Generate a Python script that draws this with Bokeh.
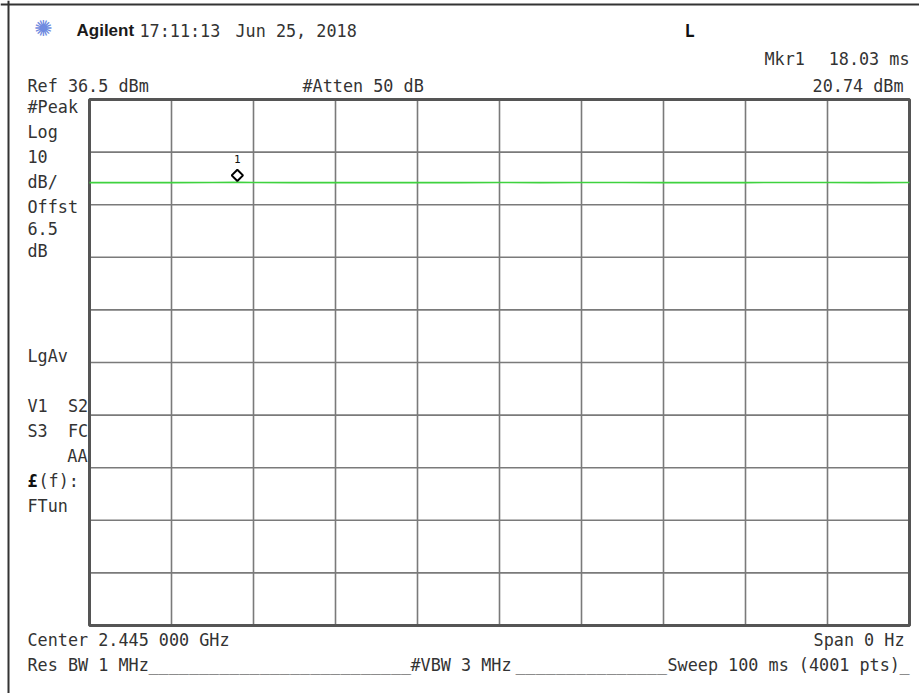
from bokeh.plotting import figure
from bokeh.models import Range1d, Label, Span
from bokeh.embed import file_html
from bokeh.resources import INLINE
import numpy as np

# ---------------- data ----------------
ref_level_dbm = 36.5
db_per_div = 10
n_div = 10
sweep_ms = 100.0

x_div_ticks = [0, 10, 20, 30, 40, 50, 60, 70, 80, 90, 100]
y_div_ticks = [36.5, 26.5, 16.5, 6.5, -3.5, -13.5, -23.5, -33.5, -43.5, -53.5, -63.5]

trace_ms = [0, 5, 10, 15, 18.03, 20, 25, 30, 35, 40, 45, 50, 55, 60, 65, 70, 75, 80, 85, 90, 95, 100]
trace_dbm = [20.70, 20.71, 20.70, 20.72, 20.74, 20.71, 20.70, 20.71, 20.70, 20.72, 20.70,
             20.71, 20.70, 20.72, 20.71, 20.70, 20.71, 20.70, 20.72, 20.71, 20.70, 20.71]

marker_ms = [18.03]
marker_dbm = [20.74]
marker_names = ["1"]

# ---------------- layout ----------------
W, H = 919, 693
GR_L, GR_T, GR_R, GR_B = 89, 99, 909, 625   # graticule edges in canvas pixels
y_bottom = ref_level_dbm - n_div * db_per_div
PX_PER_MS = (GR_R - GR_L) / sweep_ms
PX_PER_DB = (GR_B - GR_T) / (ref_level_dbm - y_bottom)
TXT_DY = -7  # baseline correction for labels

def X(px):
    return (px - GR_L) / PX_PER_MS

def Y(py):
    return ref_level_dbm - (py - GR_T) / PX_PER_DB

# the frame covers the whole canvas so that the instrument annotations are not clipped
p = figure(width=W, height=H, output_backend="svg", toolbar_location=None,
           x_range=Range1d(X(0), X(W)), y_range=Range1d(Y(H), Y(0)),
           min_border=0)
p.xaxis.visible = False
p.yaxis.visible = False
p.xgrid.visible = False
p.ygrid.visible = False
p.outline_line_color = None
p.background_fill_color = "white"
p.border_fill_color = "white"

# graticule
p.segment(x0=x_div_ticks, y0=[y_bottom] * len(x_div_ticks),
          x1=x_div_ticks, y1=[ref_level_dbm] * len(x_div_ticks),
          line_color="#7a7a7a", line_width=1.6)
p.segment(x0=[0] * len(y_div_ticks), y0=y_div_ticks,
          x1=[sweep_ms] * len(y_div_ticks), y1=y_div_ticks,
          line_color="#7a7a7a", line_width=1.6)
p.quad(left=[0], right=[sweep_ms], bottom=[y_bottom], top=[ref_level_dbm],
       fill_color=None, line_color="#555555", line_width=3)

# outer instrument frame (left and top edges)
p.add_layout(Span(location=X(8), dimension="height", line_color="#333333", line_width=2))
p.add_layout(Span(location=Y(4), dimension="width", line_color="#333333", line_width=2))

# trace
p.line(trace_ms, trace_dbm, line_color="#3fd23f", line_width=1.6)

# marker diamond, drawn just above the trace point
p.scatter(marker_ms, [d + 7 / PX_PER_DB for d in marker_dbm],
          marker="square", angle=np.pi / 4, size=8,
          fill_color="white", line_color="black", line_width=2)
for m, d, nm in zip(marker_ms, marker_dbm, marker_names):
    p.add_layout(Label(x=m, y=d + 23 / PX_PER_DB, text=nm, text_align="center",
                       text_baseline="alphabetic", text_font="DejaVu Sans Mono",
                       text_font_size="11px", text_color="#111111"))

MONO = "DejaVu Sans Mono"
FS = "16.8px"
TC = "#333333"
NB = "\u00a0"

def txt(px, py, s, align="left", font=MONO, size=FS, style="normal", color=TC, baseline="alphabetic"):
    p.add_layout(Label(x=X(px), y=Y(py + TXT_DY), text=s.replace(" ", NB),
                       text_align=align, text_baseline=baseline,
                       text_font=font, text_font_size=size, text_font_style=style,
                       text_color=color))

# header
txt(43, 35, "✺", align="center", font="DejaVu Sans", size="22px", color="#6f8be0", baseline="middle")
txt(76, 37, "Agilent", font="Liberation Sans", size="17px", style="bold", color="#1a1a1a")
txt(139, 37, "17:11:13")
txt(235, 37, "Jun 25, 2018")
txt(684, 37, "L", size="17px", style="bold", color="#111111")
txt(764, 65, "Mkr1")
txt(909, 65, "18.03 ms", align="right")
txt(903, 92, "20.74 dBm", align="right")
txt(27, 92, "Ref 36.5 dBm")
txt(302, 92, "#Atten 50 dB")

# left status column
for py, s in [(113, "#Peak"), (138, "Log"), (163, "10"), (188, "dB/"), (213, "Offst"),
              (235, "6.5"), (257, "dB"), (362, "LgAv"), (412, "V1  S2"), (437, "S3  FC"),
              (512, "FTun")]:
    txt(27, py, s)
txt(87, 462, "AA", align="right")
txt(27, 487, "£", style="bold", color="#111111")
txt(38, 487, "(f):")

# footer
txt(27, 646, "Center 2.445 000 GHz")
txt(904, 646, "Span 0 Hz", align="right")
txt(27, 671, "Res BW 1 MHz")
txt(148, 671, "_" * 26)
txt(410, 671, "#VBW 3 MHz")
txt(515, 671, "_" * 15)
txt(667, 671, "Sweep 100 ms (4001 pts)")
txt(899, 671, "_")

open("out.html", "w").write(file_html(p, INLINE))
